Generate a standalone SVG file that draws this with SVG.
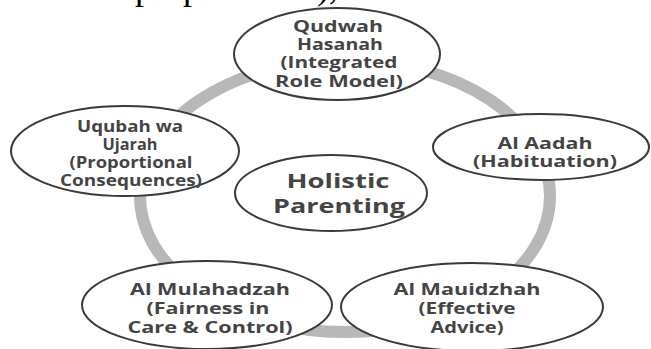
<svg xmlns="http://www.w3.org/2000/svg" width="651" height="349" viewBox="0 0 651 349">
<style>
.node ellipse{fill:#fff;stroke:#3a3a3a;stroke-width:2}
.node text{font-family:"Open Sans","DejaVu Sans",sans-serif;font-weight:700;fill:#444;text-anchor:middle;font-size:15.5px}
.big text{font-size:20px}
.ring{fill:none;stroke:#b8b8b8;stroke-width:12}
</style>
<rect width="651" height="349" fill="#fff"/>
<text x="36" y="-1" font-family="Liberation Serif,serif" font-size="36" fill="#000">secara proporsional),</text>
<g id="connectors">
<ellipse class="ring" cx="345" cy="196" rx="205" ry="136"/>
</g>
<g id="n-qudwah" class="node">
<ellipse cx="337" cy="54" rx="103" ry="46"/>
<text x="338" y="32" textLength="90" lengthAdjust="spacingAndGlyphs">Qudwah</text>
<text x="340" y="50" textLength="86" lengthAdjust="spacingAndGlyphs">Hasanah</text>
<text x="339" y="68" textLength="117" lengthAdjust="spacingAndGlyphs">(Integrated</text>
<text x="339" y="87" textLength="128" lengthAdjust="spacingAndGlyphs">Role Model)</text>
</g>
<g id="n-uqubah" class="node">
<ellipse cx="125" cy="151" rx="114" ry="45"/>
<text x="130" y="132" textLength="106" lengthAdjust="spacingAndGlyphs">Uqubah wa</text>
<text x="130" y="150" textLength="55" lengthAdjust="spacingAndGlyphs">Ujarah</text>
<text x="131" y="168" textLength="123" lengthAdjust="spacingAndGlyphs">(Proportional</text>
<text x="131" y="186" textLength="142" lengthAdjust="spacingAndGlyphs">Consequences)</text>
</g>
<g id="n-aadah" class="node">
<ellipse cx="541" cy="147" rx="108" ry="33"/>
<text x="545" y="149" textLength="95" lengthAdjust="spacingAndGlyphs">Al Aadah</text>
<text x="545" y="167" textLength="144" lengthAdjust="spacingAndGlyphs">(Habituation)</text>
</g>
<g id="n-holistic" class="node big">
<ellipse cx="331" cy="193" rx="96" ry="38"/>
<text x="338" y="188" textLength="103" lengthAdjust="spacingAndGlyphs">Holistic</text>
<text x="339" y="213" textLength="132" lengthAdjust="spacingAndGlyphs">Parenting</text>
</g>
<g id="n-mulahadzah" class="node">
<ellipse cx="207" cy="305" rx="125" ry="44"/>
<text x="210" y="295" textLength="160" lengthAdjust="spacingAndGlyphs">Al Mulahadzah</text>
<text x="208" y="314" textLength="123" lengthAdjust="spacingAndGlyphs">(Fairness in</text>
<text x="210" y="333" textLength="165" lengthAdjust="spacingAndGlyphs">Care &amp; Control)</text>
</g>
<g id="n-mauidzhah" class="node">
<ellipse cx="472" cy="307" rx="131" ry="44"/>
<text x="467" y="295" textLength="147" lengthAdjust="spacingAndGlyphs">Al Mauidzhah</text>
<text x="467" y="314" textLength="97" lengthAdjust="spacingAndGlyphs">(Effective</text>
<text x="467" y="333" textLength="73" lengthAdjust="spacingAndGlyphs">Advice)</text>
</g>
</svg>
